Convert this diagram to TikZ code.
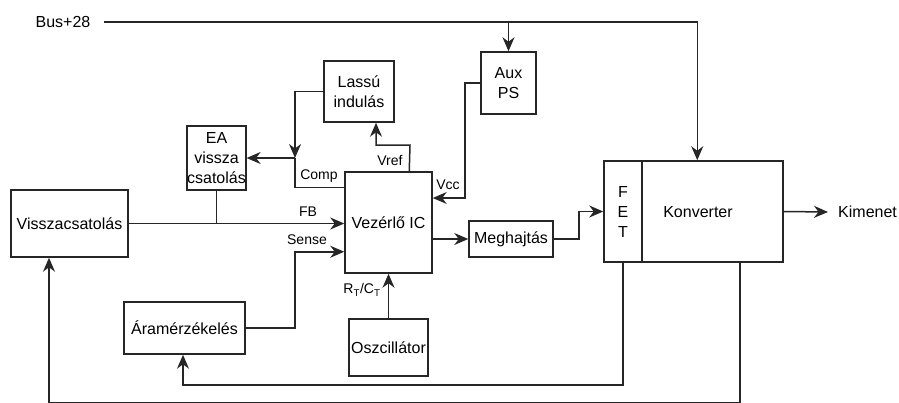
\documentclass[tikz,border=0pt]{standalone}
\usepackage{fontspec}
\setmainfont{Liberation Sans}
\usetikzlibrary{arrows.meta}
\tikzset{
  box/.style={draw=black!85, line width=1.5pt, inner sep=0pt, align=center,
    font=\fontsize{16}{20}\selectfont},
  txt/.style={inner sep=0pt, font=\fontsize{16}{20}\selectfont},
  lbl/.style={inner sep=0pt, font=\fontsize{14}{16}\selectfont},
  wire/.style={draw=black!85, line width=1.5pt},
  arr/.style={wire, -{Stealth[length=14pt, width=12pt, inset=4.5pt]}},
}
\begin{document}
\begin{tikzpicture}[x=1pt, y=-1pt]
\useasboundingbox (0,0) rectangle (899,402);
% boxes
\node[box, minimum width=70pt, minimum height=61pt] (lassu) at (359,91.5) {Lassú\\indulás};
\node[box, minimum width=57pt, minimum height=64pt] (ea) at (216.5,158) {EA\\vissza\\csatolás};
\node[box, minimum width=55pt, minimum height=62pt] (aux) at (508.5,83) {Aux\\PS};
\node[box, minimum width=87pt, minimum height=101pt] (ic) at (388.5,222.5) {Vezérlő IC};
\node[box, minimum width=117pt, minimum height=67pt] (vissza) at (69.5,223.5) {Visszacsatolás};
\node[box, minimum width=121pt, minimum height=52pt] (aram) at (184.5,328) {Áramérzékelés};
\node[box, minimum width=79pt, minimum height=57pt] (osc) at (388.5,347.5) {Oszcillátor};
\node[box, minimum width=84pt, minimum height=36pt] (megh) at (511,239) {Meghajtás};
\node[box, minimum width=38pt, minimum height=101pt] (fet) at (623,211.5) {F\\E\\T};
\node[box, minimum width=141pt, minimum height=101pt] (konv) at (712.5,211.5) {};
\node[txt] (konvtext) at (698,212) {Konverter};
\node[txt, anchor=west] (kim) at (838,212) {Kimenet};
\node[txt] (bus) at (63,22) {Bus+28};
% labels
\node[lbl] (lfb) at (308,212) {FB};
\node[lbl] (lsense) at (307,240) {Sense};
\node[lbl] (lcomp) at (319,176) {Comp};
\node[lbl] (lvref) at (390,160) {Vref};
\node[lbl] (lvcc) at (448,185) {Vcc};
\node[lbl] (lrt) at (362,290) {R\textsubscript{T}/C\textsubscript{T}};
% coordinates
\coordinate (busstart) at (104,22);
\coordinate (jc) at (295,158);
% connectors
\draw[arr] (busstart) -| ([xshift=56pt]konv.north west);
\draw[arr] (aux.north |- busstart) -- (aux.north);
\draw[arr] (aux.west) -| (465,198) -- ([yshift=24.5pt]ic.east);
\draw[arr] (lassu.west) -| (jc);
\draw[arr] (jc) -- (ea.east);
\draw[wire] (jc) |- ([yshift=-16pt]ic.north west);
\draw[arr] ([xshift=65pt]ic.north west) -- (410,145) -| ([xshift=17pt]lassu.south);
\draw[arr] (vissza.east) -- (vissza.east -| ic.west);
\draw[wire] (ea.south) -- (ea.south |- vissza.east);
\draw[arr] (aram.east) -| (295,260) |- ([yshift=22pt]ic.south west);
\draw[arr] (osc.north) -- (ic.south);
\draw[arr] (megh.west -| ic.east) -- (megh.west);
\draw[arr] (megh.east) -| (579,225) |- (fet.west);
\draw[arr] (konv.east) -- ([xshift=-10pt]kim.west);
\draw[arr] (fet.south) |- (183,385) -- ([xshift=-1.5pt]aram.south);
\draw[arr] ([xshift=27.5pt]konv.south) |- (49,403) -- ([xshift=-20.5pt]vissza.south);
\end{tikzpicture}
\end{document}
